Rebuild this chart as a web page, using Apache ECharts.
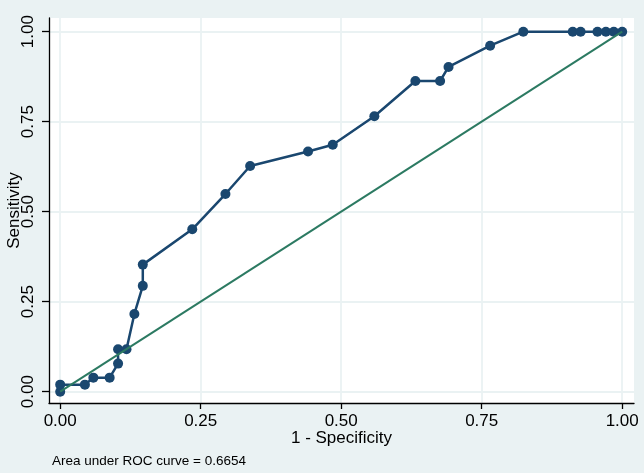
<!DOCTYPE html>
<html>
<head>
<meta charset="utf-8">
<script src="https://cdn.jsdelivr.net/npm/echarts@6/dist/echarts.min.js"></script>
<style>
html,body{margin:0;padding:0;background:#eaf2f3;}
#chart{width:644px;height:473px;}
</style>
</head>
<body>
<div id="chart"></div>
<script>
// 1 - Specificity (false positive rate)
const oneMinusSpecificity = [0, 0, 0.044, 0.059, 0.088, 0.103, 0.103, 0.118, 0.132, 0.147, 0.147, 0.235, 0.294, 0.338, 0.441, 0.485, 0.559, 0.632, 0.676, 0.691, 0.765, 0.824, 0.912, 0.926, 0.956, 0.971, 0.985, 1];
// Sensitivity (true positive rate)
const sensitivity = [0, 0.0196, 0.0196, 0.039, 0.039, 0.078, 0.118, 0.118, 0.216, 0.294, 0.353, 0.451, 0.549, 0.627, 0.667, 0.686, 0.765, 0.863, 0.863, 0.902, 0.961, 1, 1, 1, 1, 1, 1, 1];
// Reference (chance) line
const referenceX = [0, 1];
const referenceY = [0, 1];
// Tick values
const tickValues = [0, 0.25, 0.5, 0.75, 1];
const xTitle = '1 - Specificity';
const yTitle = 'Sensitivity';
const footnote = 'Area under ROC curve = 0.6654';

const font = "'Liberation Sans', Arial, Helvetica, sans-serif";
const chart = echarts.init(document.getElementById('chart'), null, {renderer: 'canvas'});

const rocData = oneMinusSpecificity.map((x, i) => [x, sensitivity[i]]);
const refData = referenceX.map((x, i) => [x, referenceY[i]]);

chart.setOption({
  animation: false,
  backgroundColor: '#eaf2f3',
  grid: {
    left: 49, right: 10, top: 18, bottom: 70,
    containLabel: false,
    outerBoundsMode: 'none',
    show: true, backgroundColor: '#ffffff', borderWidth: 0
  },
  xAxis: {
    type: 'value',
    min: -0.0199, max: 1.021,
    name: xTitle,
    nameLocation: 'middle',
    nameGap: 27,
    nameMoveOverlap: false,
    nameTextStyle: {fontFamily: font, fontSize: 17, color: '#000'},
    axisLine: {show: true, onZero: false, lineStyle: {color: '#000', width: 1.3}},
    axisTick: {show: true, length: 6, customValues: tickValues, lineStyle: {color: '#000', width: 1.3}},
    axisLabel: {customValues: tickValues, margin: 10, fontFamily: font, fontSize: 17, color: '#000',
      formatter: v => v.toFixed(2)},
    splitLine: {show: true, lineStyle: {color: '#eaf2f3', width: 1.8}}
  },
  yAxis: {
    type: 'value',
    min: -0.0314, max: 1.038,
    name: yTitle,
    nameLocation: 'middle',
    nameGap: 26,
    nameMoveOverlap: false,
    nameRotate: 90,
    nameTextStyle: {fontFamily: font, fontSize: 17, color: '#000'},
    axisLine: {show: true, onZero: false, lineStyle: {color: '#000', width: 1.3}},
    axisTick: {show: true, length: 7, customValues: tickValues, lineStyle: {color: '#000', width: 1.3}},
    axisLabel: {customValues: tickValues, rotate: 90, margin: 12, fontFamily: font, fontSize: 17, color: '#000',
      formatter: v => v.toFixed(2)},
    splitLine: {show: true, lineStyle: {color: '#eaf2f3', width: 1.8}}
  },
  series: [
    {
      type: 'line',
      data: rocData,
      symbol: 'circle',
      symbolSize: 10,
      showAllSymbol: true,
      lineStyle: {color: '#1a476f', width: 2.5},
      itemStyle: {color: '#1a476f'},
      z: 2
    },
    {
      type: 'line',
      data: refData,
      symbol: 'none',
      lineStyle: {color: '#2c7a62', width: 2},
      z: 3
    }
  ],
  graphic: [{
    type: 'text',
    left: 52,
    top: 454,
    style: {text: footnote, font: "13.5px 'Liberation Sans', Arial, sans-serif", fill: '#000'}
  }]
});
</script>
</body>
</html>
